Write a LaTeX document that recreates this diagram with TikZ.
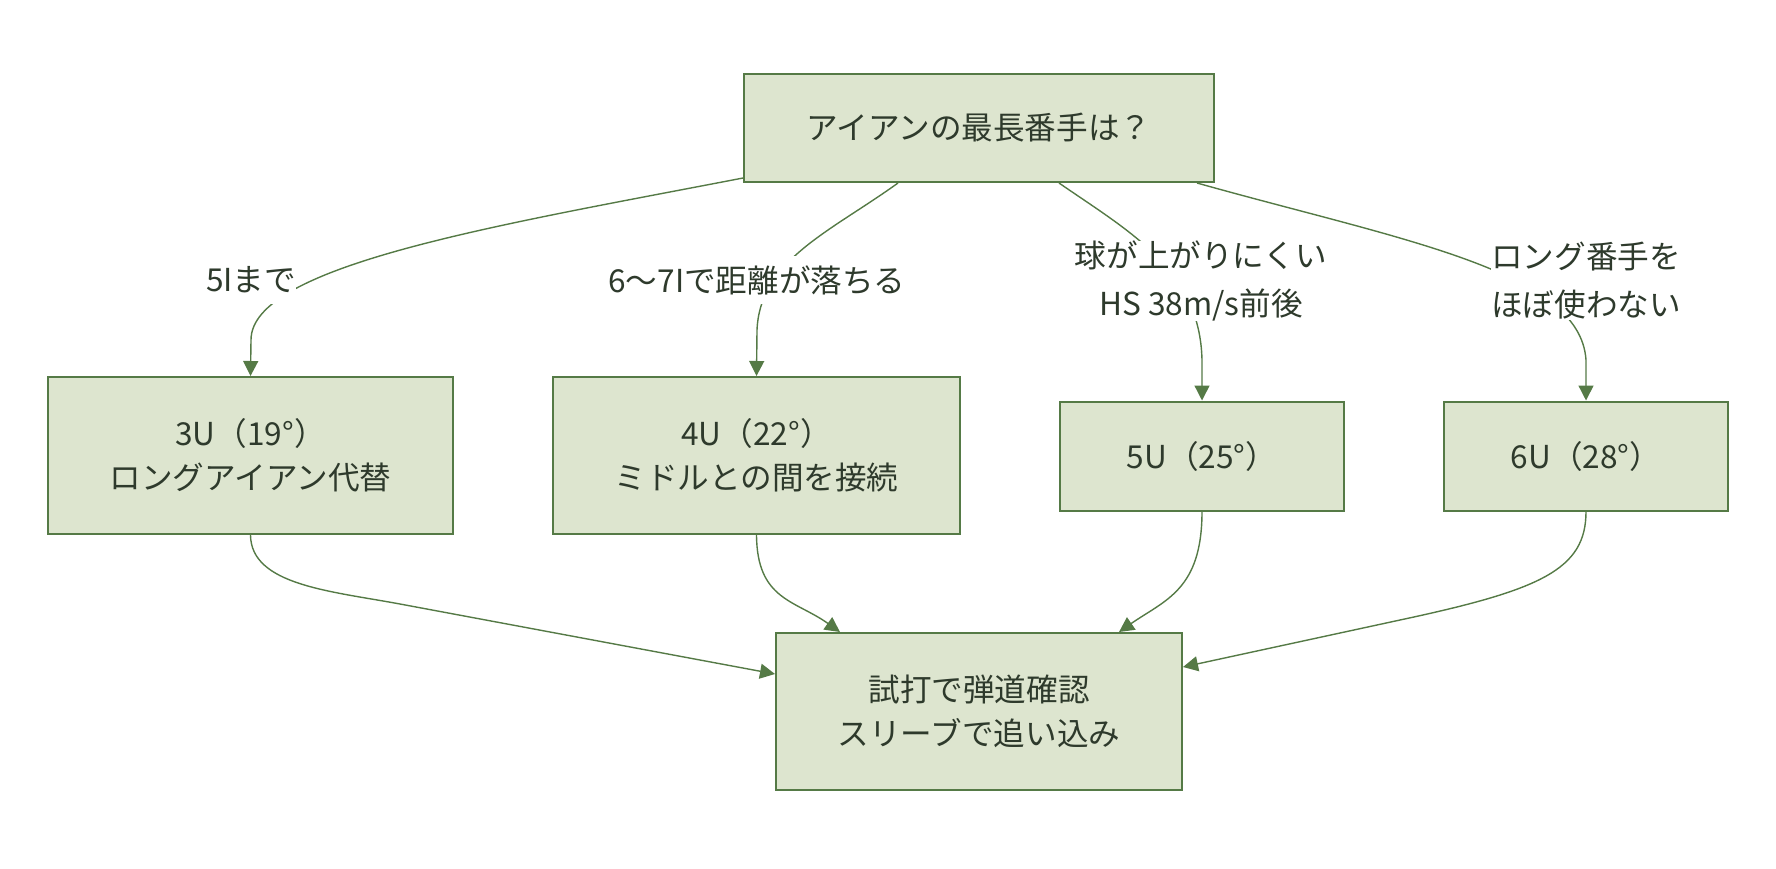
\documentclass[tikz,border=0pt]{standalone}
\usepackage{fontspec}
\setmainfont{Noto Sans CJK JP}
\usetikzlibrary{arrows.meta}
\definecolor{boxfill}{HTML}{DDE5CF}
\definecolor{boxline}{HTML}{557A46}
\definecolor{txt}{HTML}{2E3A2C}
\tikzset{
  box/.style={draw=boxline, fill=boxfill, line width=1pt, text=txt, align=center,
    font=\fontsize{15.8pt}{22pt}\selectfont, inner sep=0pt},
  elabel/.style={fill=white, text=txt, align=center, inner sep=0pt,
    font=\fontsize{15.8pt}{24pt}\selectfont, minimum height=24pt},
  conn/.style={draw=boxline, line width=0.7pt, -{Triangle[length=7.5pt,width=7.5pt]}},
}
\begin{document}
\begin{tikzpicture}[x=0.5pt,y=-0.5pt]
\useasboundingbox (0,0) rectangle (1776,868);
\node[box, minimum width=235pt, minimum height=54pt] (top) at (979,128) {アイアンの最長番手は？};
\node[box, minimum width=202.5pt, minimum height=78.5pt] (u3) at (250.5,455.5) {3U（19°）\\ロングアイアン代替};
\node[box, minimum width=203.5pt, minimum height=78.5pt] (u4) at (756.5,455.5) {4U（22°）\\ミドルとの間を接続};
\node[box, minimum width=142pt, minimum height=54.5pt] (u5) at (1202,456) {5U（25°）};
\node[box, minimum width=142pt, minimum height=54.5pt] (u6) at (1586,456) {6U（28°）};
\node[box, minimum width=203pt, minimum height=78.5pt] (fin) at (979,711.5) {試打で弾道確認\\スリーブで追い込み};
% edges from top
\draw[conn] ([yshift=2.5pt]top.south west) .. controls (500,225) and (251,265) .. (251,340) -- (u3.north);
\draw[conn] ([xshift=-40.5pt]top.south) .. controls (830,232) and (760,260) .. (757,330) -- (u4.north);
\draw[conn] ([xshift=40pt]top.south) .. controls (1130,232) and (1200,270) .. (1202,360) -- (u5.north);
\draw[conn] ([xshift=109pt]top.south) .. controls (1400,240) and (1580,270) .. (1586,360) -- (u6.north);
% edges to final
\coordinate (b5) at (400,604);
\coordinate (b8) at (1400,620);
\draw[conn] (u3.south) .. controls (251,585) and (330,591) .. (b5) -- ([yshift=18.75pt]fin.west);
\draw[conn] (u4.south) .. controls (757,600) and (795,600) .. ([xshift=-69.5pt]fin.north);
\draw[conn] (u5.south) .. controls (1202,590) and (1165,600) .. ([xshift=70pt]fin.north);
\draw[conn] (u6.south) .. controls (1586,570) and (1540,590) .. (b8) -- ([yshift=22.25pt]fin.east);
% edge labels
\node[elabel] (l1) at (251,280) {5Iまで};
\node[elabel] (l2) at (757,280) {6〜7Iで距離が落ちる};
\node[elabel] (l3) at (1201,281) {球が上がりにくい\\HS 38m/s前後};
\node[elabel] (l4) at (1586,281) {ロング番手を\\ほぼ使わない};
\end{tikzpicture}
\end{document}
